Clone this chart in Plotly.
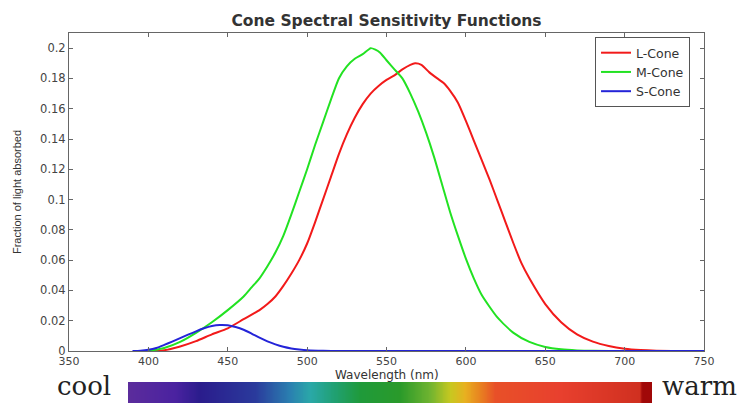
import numpy as np
import plotly.graph_objects as go

# ---- data ----
wl_L = [400, 405, 410, 420, 430, 440, 450, 460, 470, 475, 480, 485, 490, 495, 500, 505, 510, 515,
        520, 525, 530, 535, 540, 545, 550, 555, 560, 565, 568, 572, 577, 582, 586, 590, 595, 600,
        605, 610, 615, 620, 625, 630, 635, 640, 650, 660, 670, 680, 690, 700, 710, 720, 750]
L_cone = [0, 0, 0.0005, 0.003, 0.0065, 0.011, 0.015, 0.021, 0.027, 0.031, 0.036, 0.043, 0.051,
          0.060, 0.071, 0.085, 0.100, 0.115, 0.130, 0.143, 0.154, 0.163, 0.170, 0.175, 0.179,
          0.182, 0.186, 0.189, 0.190, 0.189, 0.184, 0.180, 0.177, 0.172, 0.164, 0.152, 0.139,
          0.126, 0.113, 0.099, 0.085, 0.071, 0.058, 0.048, 0.031, 0.019, 0.011, 0.0062, 0.0033,
          0.0015, 0.0006, 0.0002, 0]

wl_M = [400, 410, 420, 430, 440, 450, 460, 465, 470, 475, 480, 485, 490, 495, 500, 505, 510, 515,
        520, 525, 530, 535, 540, 543, 546, 550, 555, 560, 565, 570, 575, 580, 585, 590, 595, 600,
        605, 610, 620, 630, 640, 650, 660, 670, 680, 700, 750]
M_cone = [0, 0.002, 0.006, 0.012, 0.019, 0.027, 0.036, 0.042, 0.048, 0.056, 0.065, 0.076, 0.090,
          0.105, 0.120, 0.136, 0.151, 0.166, 0.180, 0.188, 0.193, 0.196, 0.200, 0.199, 0.197,
          0.192, 0.186, 0.180, 0.170, 0.158, 0.144, 0.128, 0.110, 0.092, 0.076, 0.061, 0.048,
          0.037, 0.022, 0.012, 0.006, 0.0027, 0.0011, 0.0004, 0.0001, 0, 0]

wl_S = [390, 395, 400, 405, 410, 415, 420, 425, 430, 435, 440, 445, 450, 455, 460, 465, 470, 475,
        480, 485, 490, 495, 500, 510, 520, 550, 600, 650, 700, 750]
S_cone = [0, 0.0002, 0.0008, 0.0020, 0.0040, 0.0062, 0.0085, 0.0108, 0.0130, 0.0150, 0.0165,
          0.0172, 0.0170, 0.0158, 0.0140, 0.0115, 0.0088, 0.0064, 0.0044, 0.0028, 0.0017, 0.0010,
          0.0005, 0.0001, 0, 0, 0, 0, 0, 0]

x_ticks = [350, 400, 450, 500, 550, 600, 650, 700, 750]
y_ticks = [0, 0.02, 0.04, 0.06, 0.08, 0.1, 0.12, 0.14, 0.16, 0.18, 0.2]
y_tick_text = ["0", "0.02", "0.04", "0.06", "0.08", "0.1", "0.12", "0.14", "0.16", "0.18", "0.2"]

# colours of the spectrum strip (position along strip, colour)
spectrum = [
    (0.000, "#5b2c9c"), (0.090, "#4a22a0"), (0.137, "#2a1c8c"), (0.242, "#2a3a9c"),
    (0.309, "#2a80b0"), (0.347, "#2aa8a8"), (0.395, "#20a070"), (0.443, "#1f9a3a"),
    (0.519, "#2a9a2a"), (0.576, "#70b430"), (0.615, "#c8c820"), (0.643, "#e8b020"),
    (0.672, "#e88020"), (0.700, "#e85028"), (0.824, "#e8402e"), (0.975, "#d03020"),
    (0.982, "#a00808"), (1.000, "#a00808"),
]

FONT = "DejaVu Sans, Arial, sans-serif"
AXC = "#666666"

fig = go.Figure()
fig.add_trace(go.Scatter(x=wl_L, y=L_cone, mode="lines", name="L-Cone",
                         line=dict(color="#f21a1a", width=2, shape="spline", smoothing=0.6)))
fig.add_trace(go.Scatter(x=wl_M, y=M_cone, mode="lines", name="M-Cone",
                         line=dict(color="#22e222", width=2, shape="spline", smoothing=0.6)))
fig.add_trace(go.Scatter(x=wl_S, y=S_cone, mode="lines", name="S-Cone",
                         line=dict(color="#2424d8", width=2, shape="spline", smoothing=0.6)))

# spectrum strip
strip = np.linspace(0, 1, 300)
fig.add_trace(go.Heatmap(z=[strip], x=strip, y=[0], xaxis="x2", yaxis="y2",
                         colorscale=[[p, c] for p, c in spectrum], showscale=False,
                         zsmooth="best", hoverinfo="skip"))

fig.update_layout(
    width=744, height=403,
    margin=dict(l=69, r=40, t=33, b=0, autoexpand=False),
    paper_bgcolor="white", plot_bgcolor="white",
    font=dict(family=FONT, color="#333333", size=11),
    title=dict(text="<b>Cone Spectral Sensitivity Functions</b>", x=0.5, xref="paper",
               y=0.95, yanchor="middle", font=dict(family=FONT, size=15.5, color="#333333")),
    xaxis=dict(range=[350, 750], tickvals=x_ticks, ticks="inside", ticklen=4, tickcolor=AXC,
               showline=True, linecolor=AXC, linewidth=1, mirror="ticks", showgrid=False,
               zeroline=False, automargin=False, tickfont=dict(size=11, color="#444444")),
    yaxis=dict(range=[0, 0.21], domain=[52 / 370, 1], tickvals=y_ticks, ticktext=y_tick_text,
               ticks="inside", ticklen=4, tickcolor=AXC, showline=True, linecolor=AXC,
               linewidth=1, mirror="ticks", showgrid=False, zeroline=False, automargin=False,
               tickfont=dict(size=11.5, color="#444444"),
               title=dict(text="Fraction of light absorbed", standoff=16,
                          font=dict(family="Liberation Sans, Arial, sans-serif", size=11,
                                    color="#333333"))),
    xaxis2=dict(domain=[(128 - 69) / 635, (652 - 69) / 635], range=[0, 1], visible=False,
                anchor="y2", automargin=False),
    yaxis2=dict(domain=[0, 21 / 370], range=[-0.5, 0.5], visible=False, anchor="x2",
                automargin=False),
    legend=dict(x=0.978, y=0.989, xanchor="right", yanchor="top", bgcolor="white",
                bordercolor="#555555", borderwidth=1, font=dict(size=12.5, color="#333333"),
                tracegroupgap=0, itemwidth=30),
    showlegend=True,
    annotations=[
        dict(text="Wavelength (nm)", xref="paper", yref="paper", x=0.5, y=(403 - 375) / 370,
             xanchor="center", yanchor="middle", showarrow=False, borderpad=0,
             font=dict(family=FONT, size=12, color="#333333")),
        dict(text="cool", xref="paper", yref="paper", x=(84 - 69) / 635, y=0.0,
             xanchor="center", yanchor="bottom", showarrow=False,
             font=dict(family="DejaVu Serif, Liberation Serif, serif", size=26, color="#222222")),
        dict(text="warm", xref="paper", yref="paper", x=(699 - 69) / 635, y=0.0,
             xanchor="center", yanchor="bottom", showarrow=False,
             font=dict(family="DejaVu Serif, Liberation Serif, serif", size=26, color="#222222")),
    ],
)

fig.write_html("out.html", config={"displayModeBar": False},
               post_script="document.body.style.margin='0px';")
